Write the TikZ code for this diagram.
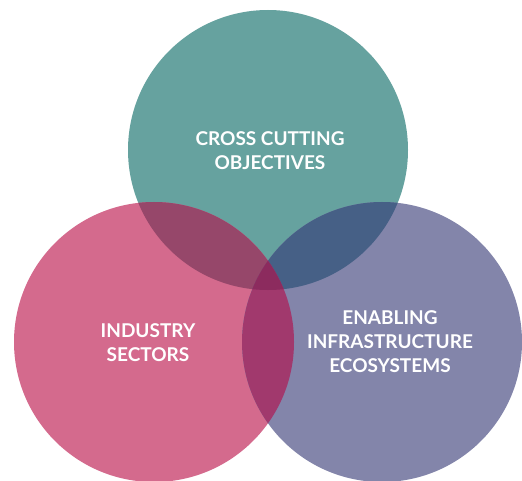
\documentclass[tikz,border=0pt]{standalone}
\usepackage{fontspec}
\setmainfont{Lato}
\definecolor{objcol}{HTML}{66A29F}
\definecolor{indcol}{HTML}{D46A8D}
\definecolor{enacol}{HTML}{8385AA}
\definecolor{objind}{HTML}{96476A}
\definecolor{objena}{HTML}{466086}
\definecolor{indena}{HTML}{A1396D}
\definecolor{allcol}{HTML}{8C2B5E}
\begin{document}
\begin{tikzpicture}[
	x=1pt, y=1pt,
	label/.style={text=white, align=center, font=\bfseries\fontsize{19}{24}\selectfont},
	]

		\useasboundingbox (0,0) rectangle (522,480);

		% Centres
		\coordinate (cobj) at (268,330);
		\coordinate (cind) at (154,138);
		\coordinate (cena) at (382,138);

		% Circles
		\fill[objcol] (cobj) circle (140pt);
		\fill[indcol] (cind) circle (140pt);
		\fill[enacol] (cena) circle (140pt);

		% Overlaps
		\begin{scope}
			\clip (cobj) circle (140pt);
			\fill[objind] (cind) circle (140pt);
			\fill[objena] (cena) circle (140pt);
		\end{scope}
		\begin{scope}
			\clip (cind) circle (140pt);
			\fill[indena] (cena) circle (140pt);
			\clip (cena) circle (140pt);
			\fill[allcol] (cobj) circle (140pt);
		\end{scope}

		% Nodes
		\node[label] (objectives) at (270,329) {CROSS CUTTING\\OBJECTIVES};
		\node[label] (industry) at (148,137) {INDUSTRY\\SECTORS};
		\node[label] (enabling) at (390,138) {ENABLING\\INFRASTRUCTURE\\ECOSYSTEMS};
	\end{tikzpicture}
\end{document}
